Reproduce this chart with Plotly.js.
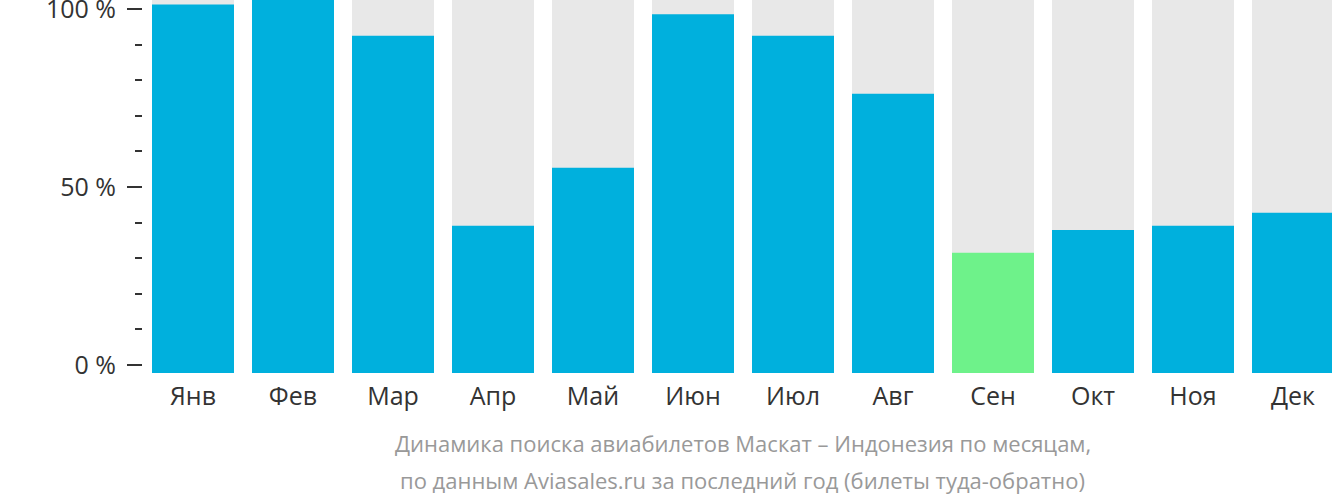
<!DOCTYPE html>
<html><head><meta charset="utf-8">
<script src="https://cdn.plot.ly/plotly-3.0.1.min.js"></script>
<style>html,body{margin:0;padding:0;background:#fff;}#chart{width:1332px;height:502px;}</style>
</head><body><div id="chart"></div>
<script>
const months = ["Янв","Фев","Мар","Апр","Май","Июн","Июл","Авг","Сен","Окт","Ноя","Дек"];
const values = [101.3, 103, 92.5, 39.1, 55.4, 98.5, 92.5, 76.2, 31.5, 37.9, 39.1, 42.8];
const lowestMonth = "Сен";
const tickVals = [0, 50, 100];
const tickText = ["0 %", "50 %", "100 %"];
const captionLines = ["Динамика поиска авиабилетов Маскат – Индонезия по месяцам,", "по данным Aviasales.ru за последний год (билеты туда-обратно)"];

const Y0 = -2.25, Y1 = 102.53;
const blue = "#00b0dd", green = "#6ef28a", gray = "#e8e8e8";
const font = "'Open Sans', 'Noto Sans', sans-serif";

const traces = [
  {type:"bar", x:months, y:months.map(()=>Y1 - Y0 + 2), base:Y0, marker:{color:gray}, hoverinfo:"skip"},
  {type:"bar", x:months, y:values.map(v=>v - Y0), base:Y0,
   marker:{color:months.map(m=>m===lowestMonth?green:blue)}}
];
const layout = {
  width:1332, height:502,
  margin:{l:143, r:0, t:0, b:129},
  barmode:"overlay", bargap:0.18, showlegend:false,
  paper_bgcolor:"#fff", plot_bgcolor:"#fff",
  font:{family:font, color:"#333", size:25},
  xaxis:{type:"category", range:[-0.5, 11.39], showgrid:false, zeroline:false, showline:false,
         ticks:"", ticklabelstandoff:6, tickfont:{size:25, color:"#333"}},
  yaxis:{range:[Y0, Y1], showgrid:false, zeroline:false, showline:false,
         tickmode:"array", tickvals:tickVals, ticktext:tickText, ticklabeloverflow:"allow",
         ticks:"outside", ticklen:15, tickwidth:2, tickcolor:"#333", ticklabelstandoff:6,
         tickfont:{size:25, color:"#333"},
         minor:{dtick:10, tick0:0, ticks:"outside", ticklen:7, tickwidth:2, tickcolor:"#333", showgrid:false}},
  annotations: captionLines.map((t,i)=>({text:t, xref:"paper", yref:"paper", x:0.5046, y:0, yshift:-(443-373) - i*37,
      xanchor:"center", yanchor:"middle", showarrow:false, font:{size:22, color:"#999", family:font}}))
};
Plotly.newPlot("chart", traces, layout, {staticPlot:true});
</script></body></html>
